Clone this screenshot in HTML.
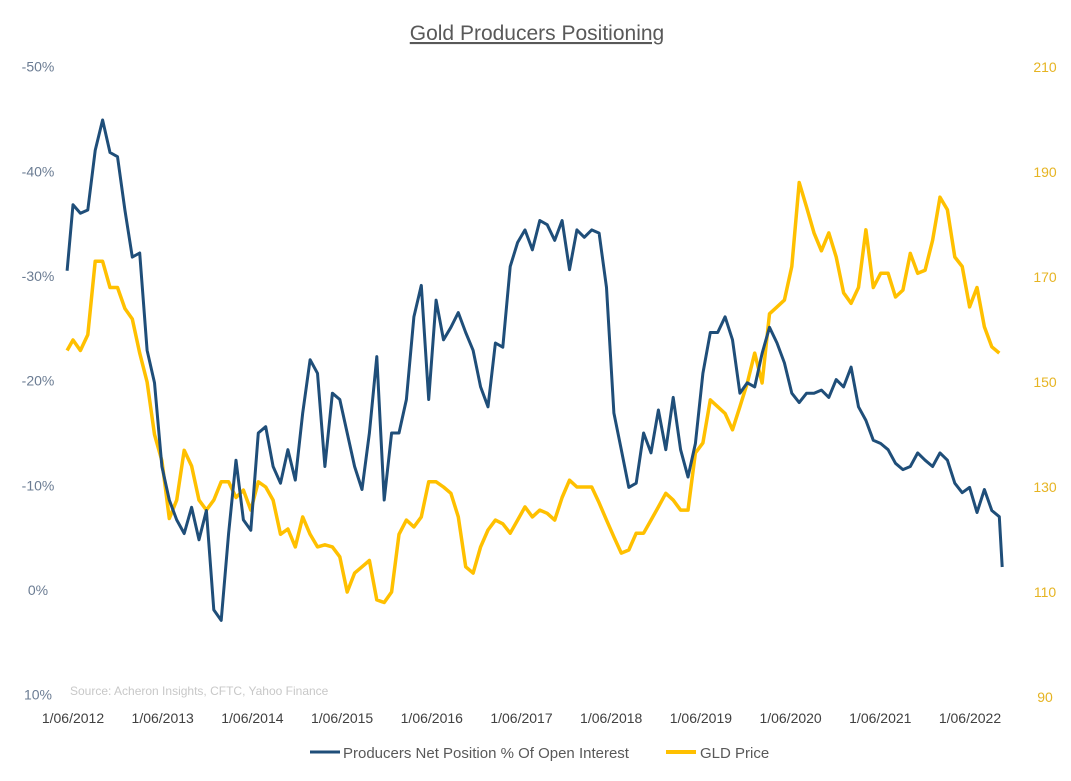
<!DOCTYPE html>
<html><head><meta charset="utf-8"><style>
body{margin:0;background:#fff;width:1071px;height:781px;overflow:hidden;font-family:"Liberation Sans",sans-serif}
svg{display:block}
</style></head><body>
<svg id="chart" width="1071" height="781">
<text x="537" y="40" text-anchor="middle" font-size="21" fill="#595959" text-decoration="underline">Gold Producers Positioning</text>
<text x="70" y="695" font-size="12" fill="#c8c8c8">Source: Acheron Insights, CFTC, Yahoo Finance</text>
<g id="axes"></g>
<g id="series"></g>
<g>
<line x1="310" y1="752" x2="340" y2="752" stroke="#1F4E79" stroke-width="3"/>
<text x="343" y="758" font-size="15" fill="#595959">Producers Net Position % Of Open Interest</text>
<line x1="666" y1="752" x2="696" y2="752" stroke="#FFC000" stroke-width="4"/>
<text x="700" y="758" font-size="15" fill="#595959">GLD Price</text>
</g>
</svg>
<script>
const leftTicks=[-50,-40,-30,-20,-10,0,10];
const leftTickLabels=["-50%","-40%","-30%","-20%","-10%","0%","10%"];
const rightTicks=[210,190,170,150,130,110,90];
const dateLabels=["1/06/2012","1/06/2013","1/06/2014","1/06/2015","1/06/2016","1/06/2017","1/06/2018","1/06/2019","1/06/2020","1/06/2021","1/06/2022"];
const producers=[-30.5,-36.8,-36.0,-36.3,-42.0,-44.9,-41.8,-41.4,-36.3,-31.8,-32.2,-22.9,-19.8,-11.8,-8.6,-6.7,-5.4,-7.9,-4.8,-7.6,1.9,2.9,-5.4,-12.4,-6.7,-5.7,-15.0,-15.6,-11.8,-10.2,-13.4,-10.5,-16.9,-22.0,-20.7,-11.8,-18.8,-18.2,-15.0,-11.8,-9.6,-15.0,-22.3,-8.6,-15.0,-15.0,-18.2,-26.1,-29.1,-18.2,-27.7,-23.9,-25.1,-26.5,-24.6,-22.9,-19.4,-17.5,-23.6,-23.2,-30.9,-33.2,-34.4,-32.5,-35.3,-34.9,-33.4,-35.3,-30.6,-34.4,-33.7,-34.4,-34.1,-28.9,-16.9,-13.4,-9.8,-10.2,-15.0,-13.1,-17.2,-13.4,-18.4,-13.4,-10.8,-14.0,-20.7,-24.6,-24.6,-26.1,-23.9,-18.8,-19.8,-19.4,-22.6,-25.1,-23.6,-21.7,-18.8,-17.9,-18.8,-18.8,-19.1,-18.4,-20.1,-19.4,-21.3,-17.5,-16.2,-14.3,-14.0,-13.4,-12.1,-11.5,-11.8,-13.1,-12.4,-11.8,-13.1,-12.4,-10.2,-9.3,-9.8,-7.4,-9.6,-7.6,-7.0,-2.2];
const gld=[156,158,156,159,173,173,168,168,164,162,155.5,150,140,135,124,127.5,137,134,127.5,125.6,127.5,131,131,128,129.4,125.6,131,130,127.5,121,122,118.6,124.3,121,118.6,119,118.6,116.7,110,113.6,114.8,116,108.5,108,110,121,123.7,122.4,124.3,131,131,130,128.8,124.3,114.8,113.6,118.6,121.8,123.7,123,121.2,123.7,126.2,124.3,125.6,125,123.7,128,131.3,130,130,130,127,123.7,120.5,117.4,118,121.2,121.2,123.7,126.2,128.8,127.5,125.6,125.6,136.5,138.4,146.6,145.3,144,140.9,145.3,149.8,155.5,149.8,163,164.3,165.6,172,188,183.3,178.4,175,178.4,173.8,167,165,168,179,168,170.7,170.7,166.2,167.5,174.5,170.7,171.3,177,185.2,182.8,173.8,172,164.3,168,160.5,156.7,155.5];
const months=[-0.8];
for(let i=0;i<producers.length-2;i++)months.push(i);
months.push(producers.length-2.6);

const xS=m=>73+m*89.7/12;
const xD=m=>73+m*7.41;
const yL=v=>590+v*10.467;
const yR=p=>67+(210-p)*5.25;
const NS="http://www.w3.org/2000/svg";
const axes=document.getElementById('axes'),series=document.getElementById('series');
function mk(tag,attrs,parent,txt){const e=document.createElementNS(NS,tag);for(const k in attrs)e.setAttribute(k,attrs[k]);if(txt!==undefined)e.textContent=txt;parent.appendChild(e);return e;}
leftTicks.forEach((v,i)=>{
 const t=mk('text',{x:38,y:yL(v)+5,'text-anchor':'middle','font-size':14,fill:'#6b7c93'},axes,leftTickLabels[i]);
 
 
});
rightTicks.forEach(v=>{
 const t=mk('text',{x:1045,y:yR(v)+5,'text-anchor':'middle','font-size':14,fill:'#e6b422'},axes,String(v));
 
 
});
dateLabels.forEach((d,i)=>{
 const t=mk('text',{x:xS(i*12),y:723,'text-anchor':'middle','font-size':14,fill:'#404040'},axes,d);
 
 
});
const gp=gld.map((v,i)=>xD(months[i]).toFixed(1)+','+yR(v).toFixed(1)).join(' ');
const g=mk('polyline',{points:gp,fill:'none',stroke:'#FFC000','stroke-width':3.5,'stroke-linejoin':'round'},series);


const bp=producers.map((v,i)=>xD(months[i]).toFixed(1)+','+yL(v).toFixed(1)).join(' ');
const b=mk('polyline',{points:bp,fill:'none',stroke:'#1F4E79','stroke-width':3,'stroke-linejoin':'round'},series);


</script>
</body></html>
